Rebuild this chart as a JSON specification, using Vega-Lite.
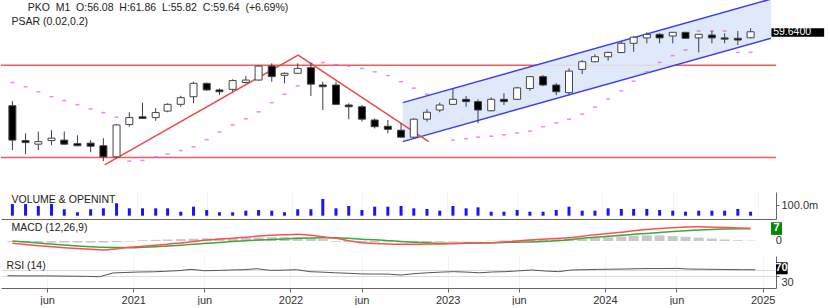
{
"$schema": "https://vega.github.io/schema/vega-lite/v6.json",
"padding": 0,
"spacing": 0,
"bounds": "flush",
"background": "white",
"config": {"view": {"stroke": null}, "font": "Liberation Sans", "axis": {"labelFont": "Liberation Sans", "labelFontSize": 11, "labelColor": "#333333", "domainColor": "#666666", "tickColor": "#666666", "gridColor": "#efefef"}},
"resolve": {"scale": {"x": "independent", "y": "independent"}},
"datasets": {"m": [
{"date":"2020-03-15","o":28.0,"h":29.4,"l":17.8,"c":19.7,"v":109,"sar":35.5,"macd":-1.2,"sig":0.0,"hist":-0.5,"rsi":33},
{"date":"2020-04-15","o":19.6,"h":21.1,"l":17.1,"c":19.2,"v":109,"sar":34.0,"macd":-1.9,"sig":-0.5,"hist":-0.7,"rsi":32},
{"date":"2020-05-15","o":18.9,"h":21.5,"l":17.8,"c":19.4,"v":91,"sar":32.3,"macd":-2.5,"sig":-1.1,"hist":-0.8,"rsi":32},
{"date":"2020-06-15","o":19.6,"h":21.8,"l":18.7,"c":20.1,"v":109,"sar":30.7,"macd":-3.0,"sig":-1.6,"hist":-0.8,"rsi":32},
{"date":"2020-07-15","o":19.7,"h":21.5,"l":18.8,"c":18.9,"v":60,"sar":29.5,"macd":-3.5,"sig":-2.1,"hist":-0.8,"rsi":31},
{"date":"2020-08-15","o":19.0,"h":20.7,"l":18.5,"c":18.6,"v":32,"sar":28.3,"macd":-4.0,"sig":-2.6,"hist":-0.8,"rsi":30},
{"date":"2020-09-15","o":19.1,"h":19.7,"l":17.4,"c":18.5,"v":60,"sar":27.1,"macd":-4.4,"sig":-3.0,"hist":-0.8,"rsi":29},
{"date":"2020-10-15","o":18.6,"h":20.1,"l":15.9,"c":16.6,"v":69,"sar":26.1,"macd":-4.7,"sig":-3.3,"hist":-0.8,"rsi":27},
{"date":"2020-11-15","o":16.6,"h":23.2,"l":16.4,"c":23.0,"v":116,"sar":24.9,"macd":-4.2,"sig":-3.4,"hist":-0.6,"rsi":50},
{"date":"2020-12-15","o":23.1,"h":26.2,"l":22.6,"c":24.8,"v":69,"sar":15.9,"macd":-3.3,"sig":-3.5,"hist":-0.3,"rsi":53},
{"date":"2021-01-15","o":25.0,"h":28.9,"l":24.5,"c":24.6,"v":69,"sar":16.0,"macd":-2.8,"sig":-3.3,"hist":0.4,"rsi":56},
{"date":"2021-02-15","o":24.8,"h":27.3,"l":24.0,"c":26.1,"v":69,"sar":16.6,"macd":-2.2,"sig":-3.0,"hist":0.6,"rsi":57},
{"date":"2021-03-15","o":26.5,"h":28.7,"l":26.2,"c":28.4,"v":69,"sar":17.1,"macd":-1.7,"sig":-2.6,"hist":0.8,"rsi":60},
{"date":"2021-04-15","o":28.4,"h":31.0,"l":27.7,"c":30.4,"v":37,"sar":17.7,"macd":-1.0,"sig":-2.2,"hist":1.0,"rsi":64},
{"date":"2021-05-15","o":30.7,"h":35.8,"l":28.7,"c":35.2,"v":84,"sar":18.4,"macd":-0.3,"sig":-1.7,"hist":1.2,"rsi":72},
{"date":"2021-06-15","o":35.2,"h":35.5,"l":32.6,"c":32.9,"v":53,"sar":19.8,"macd":0.5,"sig":-1.2,"hist":1.4,"rsi":64},
{"date":"2021-07-15","o":32.9,"h":33.4,"l":31.2,"c":32.3,"v":32,"sar":21.4,"macd":1.0,"sig":-0.8,"hist":1.5,"rsi":65},
{"date":"2021-08-15","o":33.1,"h":36.7,"l":32.3,"c":36.2,"v":32,"sar":23.0,"macd":1.5,"sig":-0.3,"hist":1.6,"rsi":68},
{"date":"2021-09-15","o":35.5,"h":37.9,"l":35.2,"c":36.4,"v":47,"sar":24.5,"macd":2.0,"sig":0.1,"hist":1.7,"rsi":70},
{"date":"2021-10-15","o":36.4,"h":42.4,"l":36.2,"c":42.0,"v":53,"sar":26.3,"macd":2.6,"sig":0.5,"hist":1.9,"rsi":76},
{"date":"2021-11-15","o":42.0,"h":43.2,"l":35.8,"c":37.7,"v":47,"sar":28.9,"macd":3.0,"sig":0.8,"hist":2.0,"rsi":66},
{"date":"2021-12-15","o":38.2,"h":39.4,"l":35.2,"c":39.0,"v":32,"sar":31.5,"macd":3.3,"sig":1.1,"hist":2.0,"rsi":67},
{"date":"2022-01-15","o":39.0,"h":43.2,"l":38.9,"c":41.0,"v":60,"sar":34.3,"macd":3.5,"sig":1.4,"hist":1.8,"rsi":70},
{"date":"2022-02-15","o":41.3,"h":43.5,"l":30.9,"c":34.9,"v":60,"sar":43.2,"macd":3.0,"sig":1.6,"hist":1.5,"rsi":58},
{"date":"2022-03-15","o":34.6,"h":35.8,"l":26.8,"c":34.0,"v":156,"sar":43.5,"macd":2.2,"sig":1.7,"hist":1.0,"rsi":55},
{"date":"2022-04-15","o":34.6,"h":35.8,"l":28.2,"c":28.4,"v":69,"sar":42.6,"macd":1.4,"sig":1.7,"hist":-0.4,"rsi":51},
{"date":"2022-05-15","o":28.2,"h":28.7,"l":24.4,"c":27.7,"v":91,"sar":42.0,"macd":0.2,"sig":1.4,"hist":-0.5,"rsi":48},
{"date":"2022-06-15","o":27.7,"h":28.2,"l":23.8,"c":24.4,"v":53,"sar":41.0,"macd":-0.9,"sig":0.9,"hist":-0.6,"rsi":44},
{"date":"2022-07-15","o":24.2,"h":24.6,"l":22.2,"c":22.6,"v":84,"sar":39.6,"macd":-1.3,"sig":0.6,"hist":-0.6,"rsi":43},
{"date":"2022-08-15","o":22.7,"h":24.2,"l":21.1,"c":22.0,"v":84,"sar":38.1,"macd":-1.6,"sig":0.2,"hist":-0.6,"rsi":43},
{"date":"2022-09-15","o":21.8,"h":23.4,"l":20.1,"c":20.3,"v":91,"sar":35.8,"macd":-1.7,"sig":-0.2,"hist":-0.6,"rsi":37},
{"date":"2022-10-15","o":20.3,"h":24.6,"l":20.1,"c":24.4,"v":69,"sar":33.5,"macd":-1.7,"sig":-0.6,"hist":-0.5,"rsi":46},
{"date":"2022-11-15","o":24.4,"h":27.0,"l":23.8,"c":26.2,"v":63,"sar":31.5,"macd":-1.6,"sig":-0.9,"hist":-0.5,"rsi":51},
{"date":"2022-12-15","o":26.8,"h":28.9,"l":26.2,"c":28.2,"v":47,"sar":null,"macd":-1.6,"sig":-1.2,"hist":-0.4,"rsi":55},
{"date":"2023-01-15","o":28.4,"h":33.4,"l":28.2,"c":29.9,"v":91,"sar":19.7,"macd":-1.4,"sig":-1.2,"hist":-0.3,"rsi":58},
{"date":"2023-02-15","o":29.9,"h":30.9,"l":27.7,"c":29.2,"v":69,"sar":20.0,"macd":-1.2,"sig":-1.1,"hist":-0.2,"rsi":55},
{"date":"2023-03-15","o":29.2,"h":29.9,"l":23.4,"c":26.8,"v":78,"sar":20.3,"macd":-1.1,"sig":-1.0,"hist":-0.1,"rsi":51},
{"date":"2023-04-15","o":26.6,"h":30.5,"l":26.4,"c":29.9,"v":37,"sar":20.5,"macd":-0.9,"sig":-0.9,"hist":0.2,"rsi":56},
{"date":"2023-05-15","o":29.9,"h":31.8,"l":28.2,"c":29.2,"v":37,"sar":20.8,"macd":-0.5,"sig":-0.8,"hist":0.3,"rsi":58},
{"date":"2023-06-15","o":29.9,"h":34.0,"l":29.7,"c":33.6,"v":53,"sar":21.2,"macd":0.0,"sig":-0.6,"hist":0.4,"rsi":63},
{"date":"2023-07-15","o":33.4,"h":37.9,"l":32.6,"c":37.7,"v":37,"sar":21.6,"macd":0.5,"sig":-0.5,"hist":0.6,"rsi":68},
{"date":"2023-08-15","o":37.7,"h":38.3,"l":34.2,"c":34.6,"v":37,"sar":22.6,"macd":0.9,"sig":-0.3,"hist":0.8,"rsi":62},
{"date":"2023-09-15","o":34.6,"h":35.2,"l":31.2,"c":32.3,"v":53,"sar":23.5,"macd":1.3,"sig":0.1,"hist":0.9,"rsi":58},
{"date":"2023-10-15","o":32.0,"h":41.0,"l":31.2,"c":39.9,"v":84,"sar":24.4,"macd":1.7,"sig":0.6,"hist":1.1,"rsi":68},
{"date":"2023-11-15","o":40.6,"h":44.7,"l":38.7,"c":43.9,"v":47,"sar":25.7,"macd":2.5,"sig":1.4,"hist":1.3,"rsi":70},
{"date":"2023-12-15","o":43.9,"h":47.4,"l":43.7,"c":46.2,"v":47,"sar":27.6,"macd":3.3,"sig":2.0,"hist":1.6,"rsi":72},
{"date":"2024-01-15","o":46.2,"h":48.6,"l":44.4,"c":48.3,"v":69,"sar":30.0,"macd":4.0,"sig":2.5,"hist":2.0,"rsi":73},
{"date":"2024-02-15","o":48.2,"h":53.9,"l":48.1,"c":53.0,"v":63,"sar":32.6,"macd":4.6,"sig":3.0,"hist":2.4,"rsi":74},
{"date":"2024-03-15","o":53.0,"h":57.1,"l":48.6,"c":56.4,"v":63,"sar":36.0,"macd":5.4,"sig":3.5,"hist":2.8,"rsi":76},
{"date":"2024-04-15","o":56.0,"h":59.3,"l":53.0,"c":58.1,"v":63,"sar":39.6,"macd":6.1,"sig":4.0,"hist":3.0,"rsi":77},
{"date":"2024-05-15","o":58.1,"h":58.7,"l":53.0,"c":56.0,"v":53,"sar":43.6,"macd":6.6,"sig":4.5,"hist":2.9,"rsi":77},
{"date":"2024-06-15","o":57.1,"h":59.5,"l":53.0,"c":59.3,"v":47,"sar":46.7,"macd":7.0,"sig":5.0,"hist":2.6,"rsi":78},
{"date":"2024-07-15","o":59.3,"h":59.5,"l":55.4,"c":55.8,"v":37,"sar":49.5,"macd":7.4,"sig":5.4,"hist":2.2,"rsi":74},
{"date":"2024-08-15","o":56.0,"h":58.2,"l":48.3,"c":58.1,"v":47,"sar":60.1,"macd":7.5,"sig":5.8,"hist":1.8,"rsi":73},
{"date":"2024-09-15","o":57.7,"h":60.1,"l":53.0,"c":56.0,"v":47,"sar":60.1,"macd":7.3,"sig":6.1,"hist":1.3,"rsi":72},
{"date":"2024-10-15","o":56.0,"h":58.7,"l":53.0,"c":55.3,"v":47,"sar":60.1,"macd":7.1,"sig":6.3,"hist":0.8,"rsi":71},
{"date":"2024-11-15","o":55.8,"h":60.1,"l":52.1,"c":54.8,"v":63,"sar":48.3,"macd":6.9,"sig":6.4,"hist":0.4,"rsi":70},
{"date":"2024-12-15","o":56.08,"h":61.86,"l":55.82,"c":59.64,"v":37,"sar":48.3,"macd":6.7,"sig":6.5,"hist":0.2,"rsi":70}
]},
"vconcat": [
{
"width": 775, "height": 192,
"layer": [
{"data": {"values": [{"lvl": 42.3}, {"lvl": 16.5}]},
 "mark": {"type": "rule", "color": "#f25c5c", "strokeWidth": 1.5},
 "encoding": {"y": {"field": "lvl", "type": "quantitative", "scale": {"type": "log", "domain": [11.59, 82.52], "nice": false},
   "axis": {"orient": "right", "values": [25, 50, 75], "format": ".2f", "grid": true, "gridColor": "#eeeeee", "tickSize": 3, "labelPadding": 2, "domain": true, "title": null}}}},
{"data": {"values": [{"date": "2022-09-19", "up": 28.9, "lo": 19.4}, {"date": "2025-02-01", "up": 83.3, "lo": 55.8}]},
 "mark": {"type": "area", "color": "#dde7f9", "opacity": 0.9, "clip": true},
 "encoding": {"x": {"field": "date", "type": "temporal", "scale": {"type": "utc", "nice": false, "domain": [{"year": 2020, "month": 2, "date": 29, "utc": true}, {"year": 2025, "month": 2, "date": 1, "utc": true}]}, "axis": null},
   "y": {"field": "up", "type": "quantitative", "scale": {"type": "log", "domain": [11.59, 82.52], "nice": false}, "axis": null},
   "y2": {"field": "lo"}}},
{"data": {"values": [{"date": "2022-09-19", "up": 28.9, "lo": 19.4}, {"date": "2025-02-01", "up": 83.3, "lo": 55.8}]},
 "mark": {"type": "line", "color": "#3b3bf0", "strokeWidth": 1.5, "clip": true},
 "encoding": {"x": {"field": "date", "type": "temporal", "axis": null},
   "y": {"field": "up", "type": "quantitative", "scale": {"type": "log", "domain": [11.59, 82.52], "nice": false}, "axis": null}}},
{"data": {"values": [{"date": "2022-09-19", "up": 28.9, "lo": 19.4}, {"date": "2025-02-01", "up": 83.3, "lo": 55.8}]},
 "mark": {"type": "line", "color": "#3b3bf0", "strokeWidth": 1.5, "clip": true},
 "encoding": {"x": {"field": "date", "type": "temporal", "axis": null},
   "y": {"field": "lo", "type": "quantitative", "scale": {"type": "log", "domain": [11.59, 82.52], "nice": false}, "axis": null}}},
{"data": {"values": [{"date": "2020-10-18", "p": 15.3}, {"date": "2022-01-16", "p": 47.0}, {"date": "2022-11-19", "p": 19.4}]},
 "mark": {"type": "line", "color": "#f04848", "strokeWidth": 1.5},
 "encoding": {"x": {"field": "date", "type": "temporal", "axis": null},
   "y": {"field": "p", "type": "quantitative", "scale": {"type": "log", "domain": [11.59, 82.52], "nice": false}, "axis": null}}},
{"data": {"name": "m"},
 "mark": {"type": "tick", "orient": "horizontal", "size": 4, "thickness": 1.5, "color": "#e05ae8"},
 "encoding": {"x": {"field": "date", "type": "temporal", "axis": null},
   "y": {"field": "sar", "type": "quantitative", "scale": {"type": "log", "domain": [11.59, 82.52], "nice": false}, "axis": null}}},
{"data": {"name": "m"},
 "mark": {"type": "rule", "color": "#3a3a60", "strokeWidth": 1},
 "encoding": {"x": {"field": "date", "type": "temporal",
   "axis": {"values": [{"year": 2020, "month": 6, "date": 15, "utc": true}, {"year": 2021, "month": 1, "date": 1, "utc": true}, {"year": 2021, "month": 6, "date": 15, "utc": true}, {"year": 2022, "month": 1, "date": 1, "utc": true}, {"year": 2022, "month": 6, "date": 15, "utc": true}, {"year": 2023, "month": 1, "date": 1, "utc": true}, {"year": 2023, "month": 6, "date": 15, "utc": true}, {"year": 2024, "month": 1, "date": 1, "utc": true}, {"year": 2024, "month": 6, "date": 15, "utc": true}, {"year": 2025, "month": 1, "date": 1, "utc": true}], "labels": false, "ticks": false, "domain": true, "grid": true, "title": null}},
   "y": {"field": "l", "type": "quantitative", "scale": {"type": "log", "domain": [11.59, 82.52], "nice": false}, "axis": null},
   "y2": {"field": "h"}}},
{"data": {"name": "m"},
 "mark": {"type": "bar", "size": 7, "stroke": "#444444", "strokeWidth": 1},
 "encoding": {"x": {"field": "date", "type": "temporal", "axis": null},
   "y": {"field": "o", "type": "quantitative", "scale": {"type": "log", "domain": [11.59, 82.52], "nice": false}, "axis": null},
   "y2": {"field": "c"},
   "fill": {"condition": {"test": "datum.c < datum.o", "value": "#000000"}, "value": "#ffffff"}}},
{"data": {"values": [{"t": "PKO\u00a0\u00a0M1\u00a0\u00a0O:56.08\u00a0\u00a0H:61.86\u00a0\u00a0L:55.82\u00a0\u00a0C:59.64\u00a0\u00a0(+6.69%)"}]},
 "mark": {"type": "text", "align": "left", "baseline": "middle", "fontSize": 10.5, "color": "#222222"},
 "encoding": {"x": {"datum": {"year": 2020, "month": 4, "date": 20, "utc": true}, "type": "temporal"},
   "y": {"datum": 76.0, "type": "quantitative"}, "text": {"field": "t"}}},
{"data": {"values": [{"t": "PSAR (0.02,0.2)"}]},
 "mark": {"type": "text", "align": "left", "baseline": "middle", "fontSize": 10.5, "color": "#222222"},
 "encoding": {"x": {"datum": {"year": 2020, "month": 3, "date": 13, "utc": true}, "type": "temporal"},
   "y": {"datum": 65.9, "type": "quantitative"}, "text": {"field": "t"}}},
{"data": {"values": [{}]},
 "mark": {"type": "rect", "color": "#000000"},
 "encoding": {"x": {"datum": {"year": 2025, "month": 2, "date": 2, "utc": true}, "type": "temporal"},
   "x2": {"datum": {"year": 2025, "month": 6, "date": 6, "utc": true}},
   "y": {"datum": 61.8, "type": "quantitative"}, "y2": {"datum": 56.7}}},
{"data": {"values": [{"t": "59.6400"}]},
 "mark": {"type": "text", "align": "left", "baseline": "middle", "fontSize": 10.5, "color": "#ffffff"},
 "encoding": {"x": {"datum": {"year": 2025, "month": 2, "date": 6, "utc": true}, "type": "temporal"},
   "y": {"datum": 59.2, "type": "quantitative"}, "text": {"field": "t"}}}
]
},
{
"width": 775, "height": 27,
"layer": [
{"data": {"name": "m"},
 "mark": {"type": "bar", "size": 3, "color": "#1414ff"},
 "encoding": {"x": {"field": "date", "type": "temporal", "scale": {"type": "utc", "nice": false, "domain": [{"year": 2020, "month": 2, "date": 29, "utc": true}, {"year": 2025, "month": 2, "date": 1, "utc": true}]},
   "axis": {"values": [{"year": 2020, "month": 6, "date": 15, "utc": true}, {"year": 2021, "month": 1, "date": 1, "utc": true}, {"year": 2021, "month": 6, "date": 15, "utc": true}, {"year": 2022, "month": 1, "date": 1, "utc": true}, {"year": 2022, "month": 6, "date": 15, "utc": true}, {"year": 2023, "month": 1, "date": 1, "utc": true}, {"year": 2023, "month": 6, "date": 15, "utc": true}, {"year": 2024, "month": 1, "date": 1, "utc": true}, {"year": 2024, "month": 6, "date": 15, "utc": true}, {"year": 2025, "month": 1, "date": 1, "utc": true}], "labels": false, "ticks": false, "domain": true, "grid": true, "gridColor": "#f4f4f4", "title": null}},
   "y": {"field": "v", "type": "quantitative", "scale": {"domain": [-30.8, 221.5], "nice": false, "zero": false},
     "axis": {"orient": "right", "values": [100], "labelExpr": "format(datum.value, '.1f') + 'm'", "grid": false, "tickSize": 3, "labelPadding": 2, "title": null}},
   "y2": {"datum": 0}}},
{"data": {"values": [{"t": "VOLUME & OPENINT"}]},
 "mark": {"type": "text", "align": "left", "baseline": "middle", "fontSize": 10.5, "color": "#222222"},
 "encoding": {"x": {"datum": {"year": 2020, "month": 3, "date": 13, "utc": true}, "type": "temporal"},
   "y": {"datum": 146.7, "type": "quantitative"}, "text": {"field": "t"}}}
]
},
{
"width": 775, "height": 37,
"layer": [
{"data": {"name": "m"},
 "mark": {"type": "bar", "size": 10, "color": "#c8c8c8"},
 "encoding": {"x": {"field": "date", "type": "temporal", "scale": {"type": "utc", "nice": false, "domain": [{"year": 2020, "month": 2, "date": 29, "utc": true}, {"year": 2025, "month": 2, "date": 1, "utc": true}]},
   "axis": {"values": [{"year": 2020, "month": 6, "date": 15, "utc": true}, {"year": 2021, "month": 1, "date": 1, "utc": true}, {"year": 2021, "month": 6, "date": 15, "utc": true}, {"year": 2022, "month": 1, "date": 1, "utc": true}, {"year": 2022, "month": 6, "date": 15, "utc": true}, {"year": 2023, "month": 1, "date": 1, "utc": true}, {"year": 2023, "month": 6, "date": 15, "utc": true}, {"year": 2024, "month": 1, "date": 1, "utc": true}, {"year": 2024, "month": 6, "date": 15, "utc": true}, {"year": 2025, "month": 1, "date": 1, "utc": true}], "labels": false, "ticks": false, "domain": true, "grid": true, "gridColor": "#f4f4f4", "title": null}},
   "y": {"field": "hist", "type": "quantitative", "scale": {"domain": [-7.89, 11.58], "nice": false, "zero": false},
     "axis": {"orient": "right", "values": [0], "labels": false, "grid": false, "tickSize": 3, "title": null}},
   "y2": {"datum": 0}}},
{"data": {"name": "m"},
 "mark": {"type": "line", "color": "#3aa83a", "strokeWidth": 1.5, "interpolate": "monotone"},
 "encoding": {"x": {"field": "date", "type": "temporal", "axis": null},
   "y": {"field": "sig", "type": "quantitative", "axis": null}}},
{"data": {"name": "m"},
 "mark": {"type": "line", "color": "#ff4f4f", "strokeWidth": 1.5, "interpolate": "monotone"},
 "encoding": {"x": {"field": "date", "type": "temporal", "axis": null},
   "y": {"field": "macd", "type": "quantitative", "axis": null}}},
{"data": {"values": [{"t": "MACD (12,26,9)"}]},
 "mark": {"type": "text", "align": "left", "baseline": "middle", "fontSize": 10.5, "color": "#222222"},
 "encoding": {"x": {"datum": {"year": 2020, "month": 3, "date": 13, "utc": true}, "type": "temporal"},
   "y": {"datum": 6.7, "type": "quantitative", "axis": null}, "text": {"field": "t"}}},
{"data": {"values": [{}]},
 "mark": {"type": "rect", "color": "#0a870a"},
 "encoding": {"x": {"datum": {"year": 2025, "month": 2, "date": 1, "utc": true}, "type": "temporal"},
   "x2": {"datum": {"year": 2025, "month": 2, "date": 27, "utc": true}},
   "y": {"datum": 9.9, "type": "quantitative", "axis": null}, "y2": {"datum": 3.2}}},
{"data": {"values": [{"t": "7"}]},
 "mark": {"type": "text", "align": "center", "baseline": "middle", "fontSize": 11, "fontWeight": "bold", "color": "#ffffff"},
 "encoding": {"x": {"datum": {"year": 2025, "month": 2, "date": 14, "utc": true}, "type": "temporal"},
   "y": {"datum": 6.6, "type": "quantitative", "axis": null}, "text": {"field": "t"}}},
{"data": {"values": [{"t": "0"}]},
 "mark": {"type": "text", "align": "left", "baseline": "middle", "fontSize": 11, "color": "#333333"},
 "encoding": {"x": {"datum": {"year": 2025, "month": 2, "date": 12, "utc": true}, "type": "temporal"},
   "y": {"datum": 0, "type": "quantitative", "axis": null}, "text": {"field": "t"}}}
]
},
{
"width": 775, "height": 32,
"layer": [
{"data": {"name": "m"},
 "mark": {"type": "line", "color": "#555555", "strokeWidth": 1},
 "encoding": {"x": {"field": "date", "type": "temporal", "scale": {"type": "utc", "nice": false, "domain": [{"year": 2020, "month": 2, "date": 29, "utc": true}, {"year": 2025, "month": 2, "date": 1, "utc": true}]},
   "axis": {"values": [{"year": 2020, "month": 6, "date": 15, "utc": true}, {"year": 2021, "month": 1, "date": 1, "utc": true}, {"year": 2021, "month": 6, "date": 15, "utc": true}, {"year": 2022, "month": 1, "date": 1, "utc": true}, {"year": 2022, "month": 6, "date": 15, "utc": true}, {"year": 2023, "month": 1, "date": 1, "utc": true}, {"year": 2023, "month": 6, "date": 15, "utc": true}, {"year": 2024, "month": 1, "date": 1, "utc": true}, {"year": 2024, "month": 6, "date": 15, "utc": true}, {"year": 2025, "month": 1, "date": 1, "utc": true}],
     "labelExpr": "utcmonth(datum.value) == 0 ? utcFormat(datum.value, '%Y') : 'jun'", "labelFlush": false, "labelOverlap": false, "tickSize": 4, "labelPadding": 2, "domain": true, "grid": true, "gridColor": "#f4f4f4", "title": null}},
   "y": {"field": "rsi", "type": "quantitative", "scale": {"domain": [-42.6, 154.3], "nice": false, "zero": false},
     "axis": {"orient": "right", "values": [30, 70], "labelExpr": "datum.value == 30 ? '30' : ''", "labelBaseline": "top", "grid": true, "gridColor": "#dddddd", "tickSize": 3, "labelPadding": 2, "title": null}}}},
{"data": {"values": [{"t": "RSI (14)"}]},
 "mark": {"type": "text", "align": "left", "baseline": "middle", "fontSize": 10.5, "color": "#222222"},
 "encoding": {"x": {"datum": {"year": 2020, "month": 3, "date": 13, "utc": true}, "type": "temporal"},
   "y": {"datum": 92.8, "type": "quantitative"}, "text": {"field": "t"}}},
{"data": {"values": [{}]},
 "mark": {"type": "rect", "color": "#000000"},
 "encoding": {"x": {"datum": {"year": 2025, "month": 2, "date": 1, "utc": true}, "type": "temporal"},
   "x2": {"datum": {"year": 2025, "month": 2, "date": 28, "utc": true}},
   "y": {"datum": 115.5, "type": "quantitative"}, "y2": {"datum": 41.7}}},
{"data": {"values": [{"t": "70"}]},
 "mark": {"type": "text", "align": "center", "baseline": "middle", "fontSize": 11, "fontWeight": "bold", "color": "#ffffff"},
 "encoding": {"x": {"datum": {"year": 2025, "month": 2, "date": 14, "utc": true}, "type": "temporal"},
   "y": {"datum": 78.6, "type": "quantitative"}, "text": {"field": "t"}}}
]
}
]
}
